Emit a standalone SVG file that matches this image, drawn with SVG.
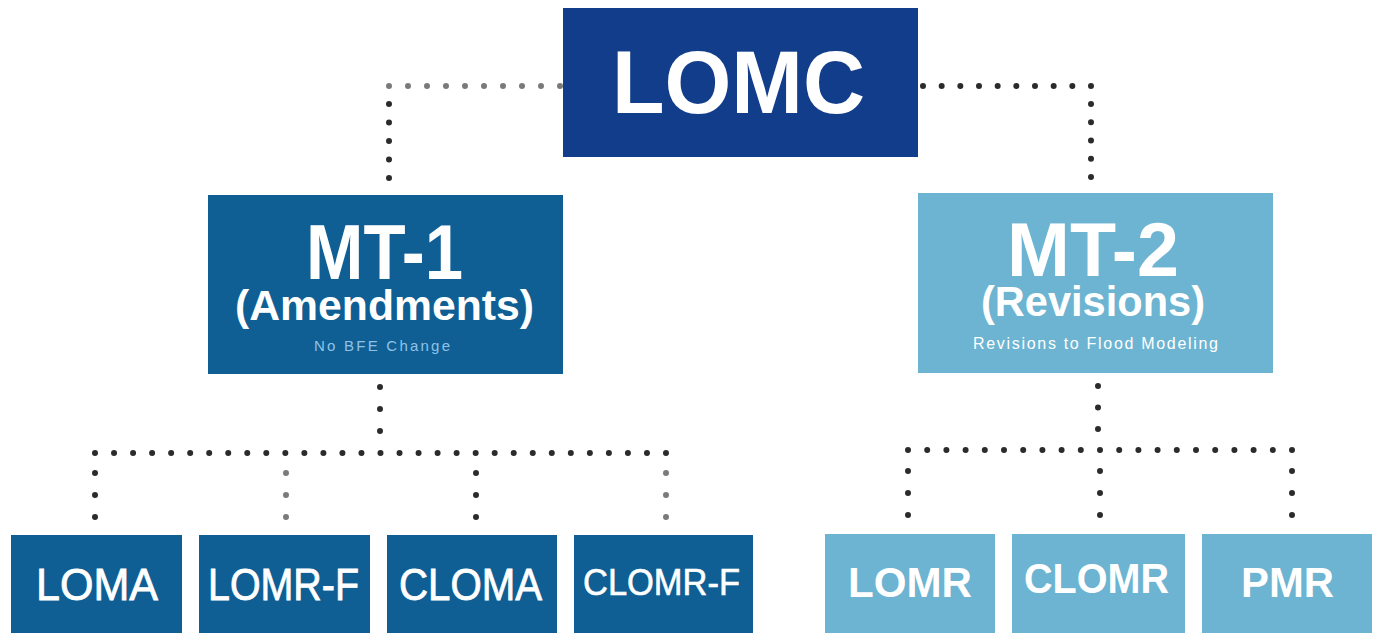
<svg xmlns="http://www.w3.org/2000/svg" width="1376" height="633" viewBox="0 0 1376 633">
<style>
.bg{fill:#ffffff}
.top{fill:#123d8a}
.dark{fill:#0f5f95}
.light{fill:#6cb4d1}
text{font-family:"Liberation Sans",Arial,sans-serif;fill:#ffffff;text-anchor:middle}
.b{font-weight:bold}
.sub1{fill:#8fc3e6;font-size:15px}
.sub2{fill:#ffffff;font-size:16px}
.dot{stroke:#2b2b2b;stroke-width:6;stroke-linecap:round;fill:none}
.g{stroke:#7a7a7a}
</style>
<rect class="bg" x="0" y="0" width="1376" height="633"/>
<g id="connectors">
  <line class="dot g" x1="560" y1="86" x2="388.9" y2="86" stroke-dasharray="0 19"/>
  <line class="dot" x1="389" y1="104" x2="389" y2="178.1" stroke-dasharray="0 18.5"/>
  <line class="dot" x1="923" y1="86" x2="1091.1" y2="86" stroke-dasharray="0 18.667"/>
  <line class="dot" x1="1091" y1="104" x2="1091" y2="177.1" stroke-dasharray="0 18.25"/>
  <line class="dot" x1="380" y1="387" x2="380" y2="431.1" stroke-dasharray="0 22"/>
  <line class="dot" x1="95" y1="453" x2="666.1" y2="453" stroke-dasharray="0 19.033"/>
  <line class="dot" x1="95" y1="473" x2="95" y2="517.1" stroke-dasharray="0 22"/>
  <line class="dot g" x1="286" y1="473" x2="286" y2="517.1" stroke-dasharray="0 22"/>
  <line class="dot" x1="476" y1="473" x2="476" y2="517.1" stroke-dasharray="0 22"/>
  <line class="dot g" x1="666" y1="473" x2="666" y2="517.1" stroke-dasharray="0 22"/>
  <line class="dot" x1="1098" y1="386" x2="1098" y2="429.1" stroke-dasharray="0 21.5"/>
  <line class="dot" x1="908" y1="450" x2="1292.1" y2="450" stroke-dasharray="0 19.2"/>
  <line class="dot" x1="908" y1="471" x2="908" y2="515.1" stroke-dasharray="0 22"/>
  <line class="dot" x1="1100" y1="471" x2="1100" y2="515.1" stroke-dasharray="0 22"/>
  <line class="dot" x1="1292" y1="471" x2="1292" y2="515.1" stroke-dasharray="0 22"/>
</g>
<g id="lomc">
  <rect class="top" x="563" y="8" width="355" height="149"/>
  <text class="b" x="738.5" y="113" font-size="89" textLength="253" lengthAdjust="spacingAndGlyphs">LOMC</text>
</g>
<g id="mt1">
  <rect class="dark" x="208" y="195" width="355" height="179"/>
  <text class="b" x="384.5" y="279" font-size="78" textLength="157" lengthAdjust="spacingAndGlyphs">MT-1</text>
  <text class="b" x="384.5" y="320" font-size="42" textLength="299" lengthAdjust="spacingAndGlyphs">(Amendments)</text>
  <text class="sub1" x="382" y="351" textLength="136" lengthAdjust="spacing">No BFE Change</text>
</g>
<g id="mt2">
  <rect class="light" x="918" y="193" width="355" height="180"/>
  <text class="b" x="1093" y="276" font-size="76" textLength="172" lengthAdjust="spacingAndGlyphs">MT-2</text>
  <text class="b" x="1093" y="316" font-size="42" textLength="224" lengthAdjust="spacingAndGlyphs">(Revisions)</text>
  <text class="sub2" x="1095.5" y="349" textLength="245" lengthAdjust="spacing">Revisions to Flood Modeling</text>
</g>
<g id="loma">
  <rect class="dark" x="11" y="535" width="171" height="105"/>
  <text x="97" y="600" font-size="44" textLength="122" lengthAdjust="spacingAndGlyphs" stroke="#fff" stroke-width="0.8">LOMA</text>
</g>
<g id="lomr-f">
  <rect class="dark" x="199" y="535" width="171" height="105"/>
  <text x="283.5" y="600" font-size="44" textLength="151" lengthAdjust="spacingAndGlyphs" stroke="#fff" stroke-width="0.8">LOMR-F</text>
</g>
<g id="cloma">
  <rect class="dark" x="387" y="535" width="170" height="105"/>
  <text x="470.5" y="600" font-size="44" textLength="143" lengthAdjust="spacingAndGlyphs" stroke="#fff" stroke-width="0.8">CLOMA</text>
</g>
<g id="clomr-f">
  <rect class="dark" x="574" y="535" width="179" height="105"/>
  <text x="661.5" y="595" font-size="36" textLength="157" lengthAdjust="spacingAndGlyphs" stroke="#fff" stroke-width="0.6">CLOMR-F</text>
</g>
<g id="lomr">
  <rect class="light" x="825" y="534" width="170" height="106"/>
  <text class="b" x="910" y="597" font-size="43" textLength="124" lengthAdjust="spacingAndGlyphs">LOMR</text>
</g>
<g id="clomr">
  <rect class="light" x="1012" y="534" width="173" height="106"/>
  <text class="b" x="1096.5" y="593" font-size="43" textLength="145" lengthAdjust="spacingAndGlyphs">CLOMR</text>
</g>
<g id="pmr">
  <rect class="light" x="1202" y="534" width="170" height="106"/>
  <text class="b" x="1287.5" y="597" font-size="43" textLength="93" lengthAdjust="spacingAndGlyphs">PMR</text>
</g>
</svg>
